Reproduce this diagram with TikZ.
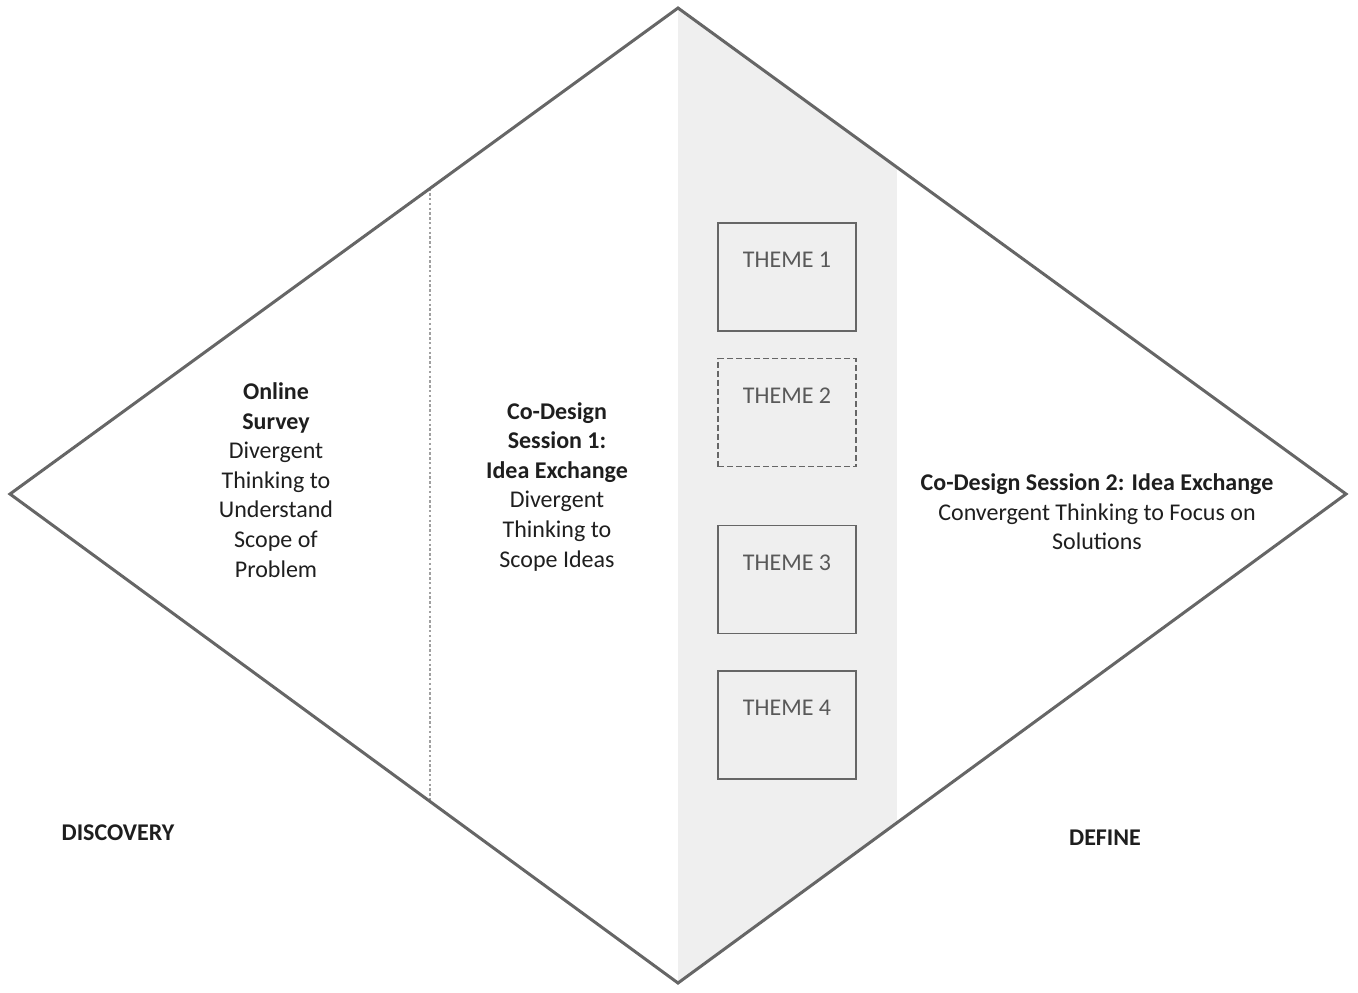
\documentclass[tikz,border=0pt]{standalone}
\usepackage{fontspec}
\setmainfont{Carlito}
\usetikzlibrary{calc}
\definecolor{edgegray}{HTML}{666666}
\definecolor{fillgray}{HTML}{EFEFEF}
\definecolor{themetxt}{HTML}{595959}
\definecolor{darktxt}{HTML}{1E1E1E}
\definecolor{dotgray}{HTML}{A0A0A0}
\tikzset{
  diamondline/.style={draw=edgegray, line width=1.5pt, line join=miter},
  themebox/.style={draw=edgegray, line width=0.9pt, fill=fillgray, minimum width=69pt, minimum height=54pt, inner sep=0pt},
  themetext/.style={text=themetxt, font=\fontsize{12}{14}\selectfont, inner sep=0pt},
  blocktext/.style={text=darktxt, align=center, font=\fontsize{12}{14.8}\selectfont, inner sep=0pt},
  phasetext/.style={text=darktxt, font=\fontsize{12}{14}\selectfont\bfseries, inner sep=0pt},
}
\begin{document}
\begin{tikzpicture}[x=0.5pt,y=-0.5pt]
\useasboundingbox (0,0) rectangle (1358,992);
\coordinate (L) at (10,494);
\coordinate (T) at (678,8);
\coordinate (R) at (1346,494);
\coordinate (B) at (678,983);
% grey band
\coordinate (GT) at ($(T)!0.3278!(R)$);
\coordinate (GB) at ($(B)!0.3278!(R)$);
\fill[fillgray] (T) -- (GT) -- (GB) -- (B) -- cycle;
% dotted divider
\coordinate (DT) at ($(L)!0.6287!(T)$);
\coordinate (DB) at ($(L)!0.6287!(B)$);
\draw[dotgray, line width=0.9pt, dash pattern=on 1.2pt off 1.2pt] (DT) -- (DB);
% diamond outline
\draw[diamondline] (L) -- (T) -- (R) -- (B) -- cycle;
% theme boxes
\node[themebox] (t1) at (787,277) {};
\node[themebox, dashed, dash pattern=on 3pt off 1.5pt] (t2) at (787,412.5) {};
\node[themebox] (t3) at (787,579.5) {};
\node[themebox] (t4) at (787,725) {};
\node[themetext] (l1) at ([yshift=-19pt]t1.north) {THEME 1};
\node[themetext] (l2) at ([yshift=-19pt]t2.north) {THEME 2};
\node[themetext] (l3) at ([yshift=-19pt]t3.north) {THEME 3};
\node[themetext] (l4) at ([yshift=-19pt]t4.north) {THEME 4};
% text blocks
\node[blocktext] (survey) at (276,480) {\textbf{Online}\\\textbf{Survey}\\Divergent\\Thinking to\\Understand\\Scope of\\Problem};
\node[blocktext] (cd1) at (557,486.5) {\textbf{Co-Design}\\\textbf{Session 1:}\\\textbf{Idea Exchange}\\Divergent\\Thinking to\\Scope Ideas};
\node[blocktext] (cd2) at (1097,512) {\textbf{Co-Design Session 2: Idea Exchange}\\Convergent Thinking to Focus on\\Solutions};
\node[phasetext] (disc) at (118,833) {DISCOVERY};
\node[phasetext] (def) at (1105,838) {DEFINE};
\end{tikzpicture}
\end{document}
